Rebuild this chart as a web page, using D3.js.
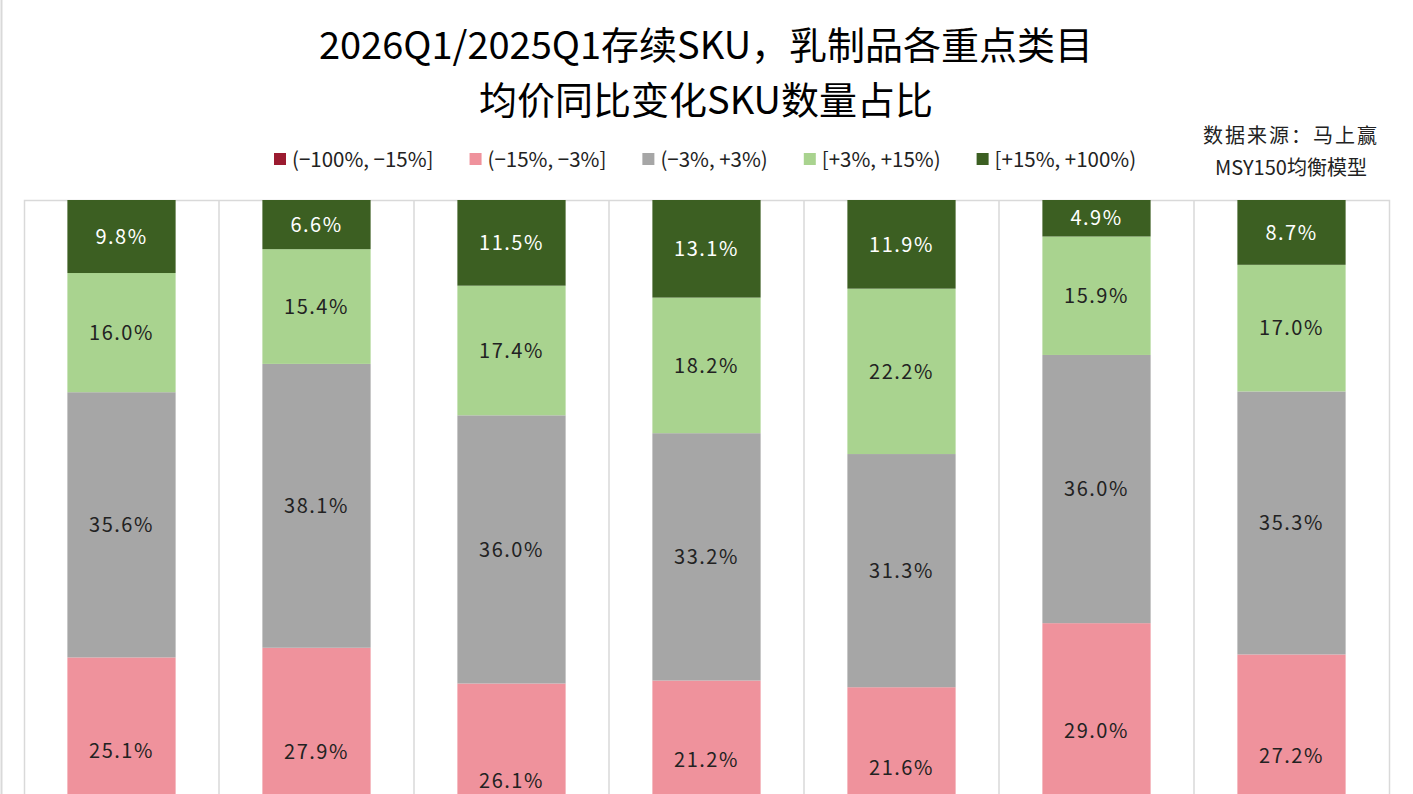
<!DOCTYPE html>
<html>
<head>
<meta charset="utf-8">
<script src="https://cdn.jsdelivr.net/npm/d3@7"></script>
<style>
  body { margin: 0; background: #fff; }
  svg { display: block; font-family: "Noto Sans CJK SC", "Liberation Sans", sans-serif; }
</style>
</head>
<body>
<svg id="chart" width="1413" height="794"></svg>
<script>
// categories (bottom axis is below the visible frame)
var categories = ["液态奶", "酸奶", "奶粉", "奶酪", "黄油", "奶油", "乳饮料"];

// price-change buckets, bottom to top
var buckets = ["(−100%, −15%]", "(−15%, −3%]", "(−3%, +3%)", "[+3%, +15%)", "[+15%, +100%)"];
var colors = ["#9b1b30", "#ef929c", "#a6a6a6", "#a9d38f", "#3c5f22"];
var textColors = ["#fff", "#222", "#222", "#222", "#fff"];

// share of SKUs in each bucket, per category (%)
var down15 = [13.5, 12.0, 9.0, 14.3, 13.0, 14.2, 11.8];
var down3 = [25.1, 27.9, 26.1, 21.2, 21.6, 29.0, 27.2];
var flat = [35.6, 38.1, 36.0, 33.2, 31.3, 36.0, 35.3];
var up3 = [16.0, 15.4, 17.4, 18.2, 22.2, 15.9, 17.0];
var up15 = [9.8, 6.6, 11.5, 13.1, 11.9, 4.9, 8.7];

var series = [down15, down3, flat, up3, up15];

var W = 1413, H = 794;
var svg = d3.select("#chart");

// rows for the stack
var rows = categories.map(function(c, i) {
  var r = {cat: c};
  buckets.forEach(function(b, k) { r[b] = series[k][i]; });
  return r;
});
var stacked = d3.stack().keys(buckets)(rows);

var x = d3.scaleBand().domain(categories).range([24, 1389]).paddingInner(0.445).paddingOuter(0.2225);
var y = d3.scaleLinear().domain([0, 100]).range([945, 200]);

// outer frame line on the left
svg.append("line")
  .attr("x1", 1.5).attr("x2", 1.5).attr("y1", 0).attr("y2", H)
  .attr("stroke", "#d9d9d9").attr("stroke-width", 2);

// plot area with category separators
var step = x.step();
svg.append("rect")
  .attr("x", 24.5).attr("y", 200.5)
  .attr("width", 1389 - 24).attr("height", 745)
  .attr("fill", "none").attr("stroke", "#d9d9d9").attr("stroke-width", 1.5);

svg.selectAll(".sep")
  .data(categories.slice(1))
  .enter().append("line")
    .attr("class", "sep")
    .attr("x1", function(d) { return x(d) - x.paddingInner() * step / 2; })
    .attr("x2", function(d) { return x(d) - x.paddingInner() * step / 2; })
    .attr("y1", 200).attr("y2", 945)
    .attr("stroke", "#d9d9d9").attr("stroke-width", 1.5);

// bars
var layers = svg.selectAll(".layer")
  .data(stacked)
  .enter().append("g")
    .attr("class", "layer")
    .attr("fill", function(d, i) { return colors[i]; });

layers.selectAll("rect")
  .data(function(d) { return d; })
  .enter().append("rect")
    .attr("x", function(d) { return x(d.data.cat); })
    .attr("width", x.bandwidth())
    .attr("y", function(d) { return y(d[1]); })
    .attr("height", function(d) { return y(d[0]) - y(d[1]); });

// value labels, only those reaching into the visible frame
stacked.forEach(function(layer, k) {
  svg.append("g").selectAll("text")
    .data(layer.filter(function(d) { return (y(d[0]) + y(d[1])) / 2 < H + 8; }))
    .enter().append("text")
      .attr("x", function(d) { return x(d.data.cat) + x.bandwidth() / 2; })
      .attr("y", function(d) { return (y(d[0]) + y(d[1])) / 2; })
      .attr("dy", "0.36em")
      .attr("text-anchor", "middle")
      .attr("font-size", 20)
      .attr("letter-spacing", 1.5)
      .attr("fill", textColors[k])
      .text(function(d) { return d3.format(".1f")(d[1] - d[0]) + "%"; });
});

// title
var title = svg.append("g").attr("font-size", 38).attr("fill", "#000").attr("text-anchor", "middle");
title.append("text").attr("x", 706).attr("y", 59).text("2026Q1/2025Q1存续SKU，乳制品各重点类目");
title.append("text").attr("x", 706).attr("y", 114).text("均价同比变化SKU数量占比");

// legend
var lx = 274;
buckets.forEach(function(b, i) {
  var g = svg.append("g").attr("transform", "translate(" + lx + ",0)");
  g.append("rect").attr("x", 0).attr("y", 153).attr("width", 12).attr("height", 12).attr("fill", colors[i]);
  var t = g.append("text").attr("x", 18).attr("y", 167).attr("font-size", 20.5).attr("fill", "#222").text(b);
  lx += 18 + t.node().getComputedTextLength() + 36;
});

// source
var src = svg.append("g").attr("font-size", 20).attr("fill", "#222").attr("text-anchor", "middle");
src.append("text").attr("x", 1291).attr("y", 143).attr("letter-spacing", 2).text("数据来源：马上赢");
src.append("text").attr("x", 1291).attr("y", 175).text("MSY150均衡模型");
</script>
</body>
</html>
